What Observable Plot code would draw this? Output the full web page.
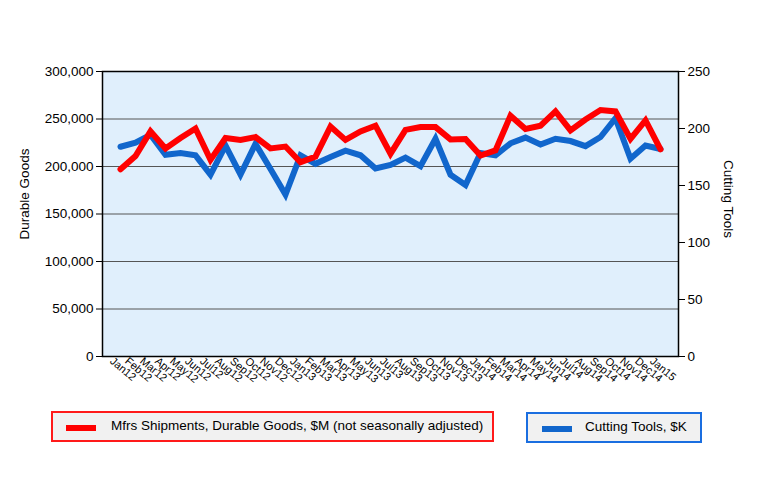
<!DOCTYPE html>
<html>
<head>
<meta charset="utf-8">
<script src="https://cdn.jsdelivr.net/npm/d3@7"></script>
<script src="https://cdn.jsdelivr.net/npm/@observablehq/plot@0.6"></script>
<style>
  body { margin: 0; background: #fff; font-family: "Liberation Sans", Arial, sans-serif; }
  #wrap { position: relative; width: 762px; height: 502px; }
  .leg { position: absolute; box-sizing: border-box; background: #f1f1f1; font-size: 13.5px; color: #000; }
  .sw { position: absolute; height: 6px; }
  .lt { position: absolute; white-space: nowrap; line-height: 16px; }
</style>
</head>
<body>
<div id="wrap">
  <div id="chart"></div>
  <div class="leg" style="left:51px; top:411px; width:443px; height:31px; border:2px solid #ff1a1a;">
    <div class="sw" style="left:13px; top:12px; width:30px; background:#ff0000;"></div>
    <div class="lt" style="left:58px; top:5px;" id="lab1"></div>
  </div>
  <div class="leg" style="left:526px; top:412px; width:176px; height:31px; border:2px solid #1a6ee0;">
    <div class="sw" style="left:14px; top:12px; width:30px; background:#1166cc;"></div>
    <div class="lt" style="left:57px; top:5px;" id="lab2"></div>
  </div>
</div>
<script>
const months = ["Jan12","Feb12","Mar12","Apr12","May12","Jun12","Jul12","Aug12","Sep12","Oct12","Nov12","Dec12",
  "Jan13","Feb13","Mar13","Apr13","May13","Jun13","Jul13","Aug13","Sep13","Oct13","Nov13","Dec13",
  "Jan14","Feb14","Mar14","Apr14","May14","Jun14","Jul14","Aug14","Sep14","Oct14","Nov14","Dec14","Jan15"];
const durableGoods = [197000,211000,237000,219000,230000,240000,207000,230000,228000,231000,219000,221000,
  204500,210500,242000,228000,237000,243000,213500,238500,241500,241500,228500,229000,
  211500,217000,253500,239500,243000,258000,238000,249500,259500,258000,229000,248500,218000];
const cuttingTools = [184,187.5,194.5,177,178.5,176.5,159.5,185,159.5,186.5,164.5,142,
  176.5,169,175,180.5,176.5,165,168,174.5,167,191,159.5,150.5,
  178.5,176.5,187,192,186,191,189,184.5,192.5,209,173.5,185,182];
const leftTicks = [0,50000,100000,150000,200000,250000,300000];
const rightTicks = [0,50,100,150,200,250];
const seriesNames = ["Mfrs Shipments, Durable Goods, $M (not seasonally adjusted)", "Cutting Tools, $K"];
const axisNames = ["Durable Goods", "Cutting Tools"];

const leftMax = 300000, rightMax = 250, k = leftMax / rightMax;
const red = months.map((m, i) => ({m, v: durableGoods[i]}));
const blue = months.map((m, i) => ({m, v: cuttingTools[i] * k}));

document.getElementById("lab1").textContent = seriesNames[0];
document.getElementById("lab2").textContent = seriesNames[1];

const chart = Plot.plot({
  width: 762, height: 400,
  marginLeft: 102, marginRight: 84, marginTop: 71, marginBottom: 44,
  style: {fontFamily: '"Liberation Sans", Arial, sans-serif', fontSize: "13.5px", color: "#000", background: "transparent"},
  x: {type: "point", domain: months, padding: 0.45},
  y: {domain: [0, leftMax]},
  marks: [
    Plot.frame({fill: "#e0effc", stroke: null}),
    Plot.gridY(leftTicks.slice(1, -1), {stroke: "#555", strokeOpacity: 1, strokeWidth: 1}),
    Plot.lineY(blue, {x: "m", y: "v", stroke: "#1166cc", strokeWidth: 6, strokeLinejoin: "miter", strokeMiterlimit: 4}),
    Plot.lineY(red, {x: "m", y: "v", stroke: "#ff0000", strokeWidth: 6, strokeLinejoin: "miter", strokeMiterlimit: 4}),
    Plot.frame({stroke: "#000", strokeWidth: 1.5}),
    Plot.axisY({anchor: "left", ticks: leftTicks, tickFormat: d3.format(","), label: null, tickSize: 6, tickPadding: 3}),
    Plot.axisY(rightTicks.map(d => d * k), {anchor: "right", tickFormat: d => String(Math.round(d / k)), label: null, tickSize: 6, tickPadding: 3}),
    Plot.axisX({tickRotate: 40, tickSize: 0, tickPadding: 3, dx: -9, fontSize: 11, label: null}),
    Plot.text([axisNames[0]], {text: d => d, frameAnchor: "left", textAnchor: "middle", dx: -78, dy: -20, rotate: -90, fontSize: 13.5}),
    Plot.text([axisNames[1]], {text: d => d, frameAnchor: "right", textAnchor: "middle", dx: 50, dy: -15, rotate: 90, fontSize: 13.5})
  ]
});
document.getElementById("chart").appendChild(chart);
</script>
</body>
</html>
